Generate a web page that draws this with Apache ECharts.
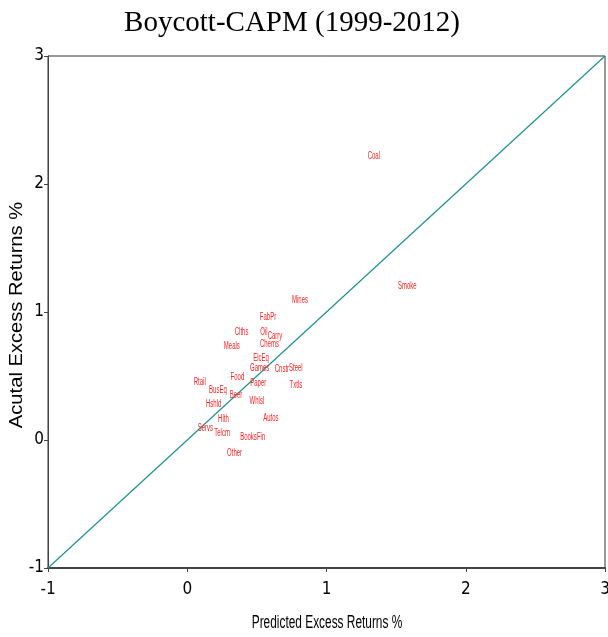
<!DOCTYPE html>
<html>
<head>
<meta charset="utf-8">
<script src="https://cdn.jsdelivr.net/npm/echarts@6/dist/echarts.min.js"></script>
<style>
  html, body { margin: 0; padding: 0; background: #fff; }
  #chart { width: 608px; height: 637px; }
</style>
</head>
<body>
<div id="chart"></div>
<script>
// Industry portfolios: CAPM-predicted vs. actual average excess returns (%)
const industries = ["Coal", "Smoke", "Mines", "FabPr", "Clths", "Oil", "Carry", "Meals", "Chems", "ElcEq",
  "Games", "Cnstr", "Steel", "Food", "Rtail", "BusEq", "Paper", "Txtls", "Beer", "Hshld",
  "Whlsl", "Autos", "Hlth", "Servs", "Telcm", "Books", "Fin", "Other"];
const predicted = [1.34, 1.58, 0.81, 0.58, 0.39, 0.55, 0.63, 0.32, 0.59, 0.53,
  0.52, 0.68, 0.78, 0.36, 0.09, 0.22, 0.51, 0.78, 0.35, 0.19,
  0.50, 0.60, 0.26, 0.13, 0.25, 0.44, 0.53, 0.34];
const actual = [2.22, 1.20, 1.09, 0.96, 0.84, 0.84, 0.81, 0.73, 0.75, 0.64,
  0.56, 0.55, 0.56, 0.49, 0.45, 0.39, 0.44, 0.43, 0.35, 0.28,
  0.30, 0.17, 0.16, 0.09, 0.05, 0.02, 0.02, -0.10];
const ticks = [-1, 0, 1, 2, 3];
// 45-degree reference line endpoints
const diagonal = [-1, 3];

const sans = "'DejaVu Sans Condensed', 'Liberation Sans', sans-serif";
const chart = echarts.init(document.getElementById('chart'), null, { renderer: 'canvas' });

const axisCommon = {
  type: 'value',
  min: ticks[0],
  max: ticks[ticks.length - 1],
  interval: 1,
  splitLine: { show: false },
  axisTick: { show: true, length: 4, lineStyle: { color: '#444', width: 1 } },
  axisLabel: { color: '#000', fontFamily: sans, fontSize: 17 }
};

chart.setOption({
  animation: false,
  backgroundColor: '#fff',
  title: {
    text: 'Boycott-CAPM (1999-2012)',
    left: 287, top: 4, textAlign: 'center',
    textStyle: { fontFamily: "'Liberation Serif', 'Times New Roman', serif", fontSize: 29, fontWeight: 'normal', color: '#000' }
  },
  grid: { left: 48, right: 3, top: 56, bottom: 69, outerBoundsMode: 'none', containLabel: false,
          show: true, borderColor: '#333', borderWidth: 1, backgroundColor: '#fff' },
  xAxis: Object.assign({}, axisCommon, {
    axisLine: { show: true, onZero: false, lineStyle: { color: '#444', width: 2 } },
    axisLabel: Object.assign({}, axisCommon.axisLabel, { margin: 13 })
  }),
  yAxis: Object.assign({}, axisCommon, {
    axisLine: { show: true, onZero: false, lineStyle: { color: '#444', width: 1 } },
    axisLabel: Object.assign({}, axisCommon.axisLabel, { margin: 4 })
  }),
  graphic: [
    {
      type: 'text', x: 327, y: 623, scaleX: 0.66,
      style: { text: 'Predicted Excess Returns %', font: "18px 'Liberation Sans', sans-serif",
               fill: '#000', align: 'center', verticalAlign: 'middle' }
    },
    {
      type: 'text', x: 17, y: 315, rotation: Math.PI / 2, scaleX: 1.12,
      style: { text: 'Acutal Excess Returns %', font: "18px 'Liberation Sans', sans-serif",
               fill: '#000', align: 'center', verticalAlign: 'middle' }
    }
  ],
  series: [
    {
      type: 'line',
      data: diagonal.map(v => [v, v]),
      symbol: 'none',
      lineStyle: { color: '#1d918f', width: 1.2 },
      z: 1
    },
    {
      // condensed marker labels placed at each (predicted, actual) point
      type: 'custom',
      data: industries.map((n, i) => [predicted[i], actual[i], n]),
      encode: { x: 0, y: 1 },
      renderItem: function (params, api) {
        const pt = api.coord([api.value(0), api.value(1)]);
        return {
          type: 'text',
          x: pt[0], y: pt[1], scaleX: 0.6,
          style: {
            text: industries[params.dataIndex],
            font: "10px 'Liberation Sans', sans-serif",
            fill: '#ff1f1f', align: 'center', verticalAlign: 'middle'
          }
        };
      },
      z: 3
    }
  ]
});
</script>
</body>
</html>
